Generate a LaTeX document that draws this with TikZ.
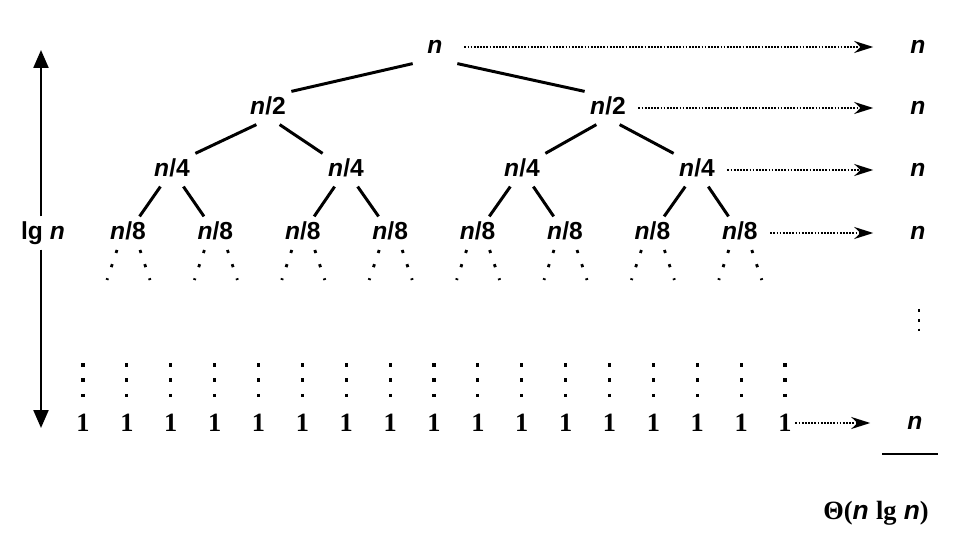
\documentclass[tikz,border=0pt]{standalone}
\usepackage{fontspec}
\setmainfont{Liberation Sans}
\newfontfamily\serifface{Liberation Serif}
\usetikzlibrary{arrows.meta}

\begin{document}
\begin{tikzpicture}[x=0.02cm, y=-0.02cm,
  lbl/.style={font=\fontsize{14}{16}\selectfont\bfseries, inner sep=3pt, text height=10pt, text depth=2.5pt},
  leaf/.style={font=\fontsize{15}{17}\selectfont\serifface\bfseries, inner sep=2pt},
  treeline/.style={line width=1.7pt},
  costarrow/.style={line width=1.1pt, dash pattern=on 1pt off 0.8pt, -{Stealth[length=3.8mm,width=2.4mm]}, shorten <=4pt, shorten >=18pt},
  treedots/.style={line width=1.6pt, dash pattern=on 1.8pt off 6.7pt},
  leafdots/.style={line width=1.8pt, dash pattern=on 2pt off 6.8pt},
  heightarrow/.style={line width=1.3pt, -{Triangle[length=3.6mm,width=3mm]}}]
\useasboundingbox (0,0) rectangle (957,547);

% tree
\node[lbl, minimum width=25pt] (root) at (435,47) {\textit{n}};
\node[lbl] (h1) at (268,108) {\textit{n}/2};
\node[lbl] (h2) at (608,108) {\textit{n}/2};
\node[lbl] (q1) at (172,170) {\textit{n}/4};
\node[lbl] (q2) at (346,170) {\textit{n}/4};
\node[lbl] (q3) at (522,170) {\textit{n}/4};
\node[lbl] (q4) at (697,170) {\textit{n}/4};
\foreach \i in {1,...,8}
  \node[lbl] (e\i) at ({128+87.4*(\i-1)},233) {\textit{n}/8};

\draw[treeline] (root.south west) -- (h1.north east);
\draw[treeline] (root.south east) -- (h2.north west);
\draw[treeline] (h1.-125) -- (q1.north east);
\draw[treeline] (h1.-55) -- (q2.north west);
\draw[treeline] (h2.-125) -- (q3.north east);
\draw[treeline] (h2.-55) -- (q4.north west);
\draw[treeline] (q1) -- (e1);
\draw[treeline] (q1) -- (e2);
\draw[treeline] (q2) -- (e3);
\draw[treeline] (q2) -- (e4);
\draw[treeline] (q3) -- (e5);
\draw[treeline] (q3) -- (e6);
\draw[treeline] (q4) -- (e7);
\draw[treeline] (q4) -- (e8);

\foreach \i in {1,...,8} {
  \draw[treedots] (e\i) ++(-11,17) -- ++(-10,30);
  \draw[treedots] (e\i) ++(12,17) -- ++(10,30);
}

% leaves
\foreach \i in {1,...,17} {
  \node[leaf] (l\i) at ({83+43.875*(\i-1)},423) {1};
  \draw[leafdots] (l\i) ++(0,-60) -- ++(0,36);
}

% height
\node[lbl] (lgn) at (43,233) {lg \textit{n}};
\coordinate (top) at (41,50);
\coordinate (bot) at (41,428);
\draw[heightarrow] (lgn.north -| top) -- (top);
\draw[heightarrow] (lgn.south -| bot) -- (bot);

% costs per level
\node[lbl] (c0) at (918,47) {\textit{n}};
\node[lbl] (c1) at (918,108) {\textit{n}};
\node[lbl] (c2) at (918,170) {\textit{n}};
\node[lbl] (c3) at (918,233) {\textit{n}};
\node[lbl] (c4) at (915,423) {\textit{n}};
\draw[costarrow] (root) -- (c0);
\draw[costarrow] (h2) -- (c1);
\draw[costarrow] (q4) -- (c2);
\draw[costarrow] (e8) -- (c3);
\draw[costarrow, shorten <=0pt] (l17) -- (c4);

\draw[line width=1.5pt, dash pattern=on 1.6pt off 4pt] (919,309) -- (919,334);
\draw[line width=1.2pt] (882,454) -- (938,454);
\node[lbl, font=\fontsize{15}{17}\selectfont\bfseries] (total) at (876,513) {{\serifface\char"0398(}\textit{n} {\serifface lg} \textit{n}{\serifface)}};
\end{tikzpicture}
\end{document}
